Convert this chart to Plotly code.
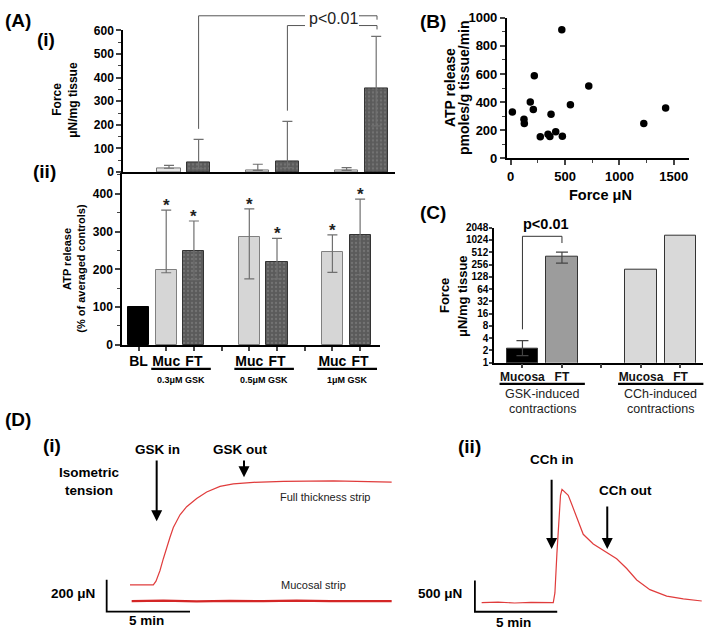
import math
import plotly.graph_objects as go

W, H = 709, 639
FONT = "Arial, Liberation Sans, sans-serif"

# ---------------- data ----------------
# Panel A
a_pos = [0, 1, 2, 4, 5, 7, 8]
a_labels = ["BL", "Muc", "FT", "Muc", "FT", "Muc", "FT"]
a_groups = ["0.3\u03bcM GSK", "0.5\u03bcM GSK", "1\u03bcM GSK"]

# A(i) force (no BL bar)
f_pos_muc = [1, 4, 7]
f_muc = [16, 7, 7]
f_muc_up = [28, 33, 19]
f_pos_ft = [2, 5, 8]
f_ft = [41, 47, 355]
f_ft_up = [138, 215, 575]
f_ft_lo = [14, 19, 196]

# A(ii) ATP release (% of averaged controls)
atp_bl = [100]
atp_muc = [197, 285, 247]
atp_muc_up = [357, 360, 291]
atp_muc_lo = [191, 175, 192]
atp_ft = [248, 220, 291]
atp_ft_up = [328, 282, 386]
atp_ft_lo = [173, 175, 186]

# Panel B: force (uN) vs ATP release
b_force = [15, 122, 125, 180, 208, 217, 272, 343, 360, 371, 414, 470, 475, 549, 718, 1224, 1425]
b_atp = [329, 278, 248, 400, 347, 588, 153, 171, 155, 313, 190, 914, 157, 382, 514, 248, 359]

# Panel C
c_pos = [0, 1, 3, 4]
c_labels = ["Mucosa", "FT", "Mucosa", "FT"]
c_gsk_vals = [2.25, 393]
c_gsk_up = [3.5, 517]
c_gsk_lo = [1.5, 277]
c_cch_vals = [189, 1340]
c_groups = [("GSK-induced", "contractions"), ("CCh-induced", "contractions")]
c_ticks = [1, 2, 4, 8, 16, 32, 64, 128, 256, 512, 1024, 2048]

# Panel D(i): time (min), force (uN)
d1_ft_t = [0, 1.4, 1.56, 1.8, 2.0, 2.2, 2.4, 2.6, 2.8, 3.0, 3.4, 4.0, 4.6, 5.4, 6.2, 7.4, 9.2, 12.2, 15.7]
d1_ft_f = [0, 0, 23, 90, 164, 237, 299, 360, 403, 440, 491, 542, 583, 618, 634, 644, 650, 653, 645]
d1_mu_t = [0.1, 2.0, 4.0, 6.0, 8.0, 10.0, 12.0, 14.0, 15.7]
d1_mu_f = [-102, -100, -104, -101, -103, -100, -103, -101, -102]
d1_events = [("GSK in", 1.6, 790, 399), ("GSK out", 6.84, 790, 675)]
d1_scale = (200, 5)  # uN, min

# Panel D(ii)
d2_t = [0, 1.0, 2.0, 3.0, 4.35, 4.45, 4.57, 4.7, 4.79, 4.88, 5.0, 5.26, 5.49, 5.77, 6.17,
        6.78, 7.59, 8.2, 8.81, 9.42, 10.22, 11.24, 12.25, 13.37]
d2_f = [0, 8, -5, 6, 0, 156, 781, 1406, 1719, 1812, 1781, 1719, 1562, 1355, 1094,
        938, 808, 703, 547, 364, 208, 105, 62, 27]
d2_events = [("CCh in", 4.25, 1989, 859), ("CCh out", 7.63, 1562, 859)]
d2_scale = (500, 5)

# ---------------- helpers ----------------
def px(x):
    return x / W

def py(y):
    return 1 - y / H

def dom_x(a, b):
    return [px(a), px(b)]

def dom_y(top, bottom):
    return [py(bottom), py(top)]

A1_X = (123, 395); A1_R = (-0.554, 8.635)
A2_X = (122, 380); A2_R = (-0.596, 8.718)
A1_Y = (24, 169); A2_Y = (170, 346)
C_X = (494, 703); C_R = (-0.72, 4.57); C_Y = (226, 364.3)

def lin(v, r, d):
    return d[0] + (v - r[0]) / (r[1] - r[0]) * (d[1] - d[0])

def a1x(p): return lin(p, A1_R, A1_X)
def a1y(v): return A1_Y[1] - v / 600 * (A1_Y[1] - A1_Y[0])
def a2x(p): return lin(p, A2_R, A2_X)
def cx(p): return lin(p, C_R, C_X)
def cy(v): return C_Y[1] - math.log2(v) / 11 * (C_Y[1] - C_Y[0])

DARK = "#5b5b5b"
LIGHT = "#d6d6d6"
ERR = "#707070"
pat = dict(shape=".", fgcolor="#8c8c8c", bgcolor=DARK, size=4, solidity=0.25)

fig = go.Figure()

# A(i)
fig.add_trace(go.Bar(x=f_pos_muc, y=f_muc, width=0.79, xaxis="x", yaxis="y",
                     marker=dict(color="#e6e6e6", line=dict(color="#777", width=1)),
                     error_y=dict(type="data", symmetric=False,
                                  array=[u - v for u, v in zip(f_muc_up, f_muc)],
                                  arrayminus=[0 for _ in f_muc],
                                  color=ERR, thickness=1.2, width=5)))
fig.add_trace(go.Bar(x=f_pos_ft, y=f_ft, width=0.79, xaxis="x", yaxis="y",
                     marker=dict(color=DARK, pattern=pat, line=dict(color="#333", width=1)),
                     error_y=dict(type="data", symmetric=False,
                                  array=[u - v for u, v in zip(f_ft_up, f_ft)],
                                  arrayminus=[v - l for v, l in zip(f_ft, f_ft_lo)],
                                  color=ERR, thickness=1.2, width=5)))

# A(ii)
fig.add_trace(go.Bar(x=[0], y=atp_bl, width=0.76, xaxis="x2", yaxis="y2",
                     marker=dict(color="black", line=dict(color="black", width=1))))
fig.add_trace(go.Bar(x=f_pos_muc, y=atp_muc, width=0.76, xaxis="x2", yaxis="y2",
                     marker=dict(color=LIGHT, line=dict(color="#808080", width=1)),
                     error_y=dict(type="data", symmetric=False,
                                  array=[u - v for u, v in zip(atp_muc_up, atp_muc)],
                                  arrayminus=[v - l for v, l in zip(atp_muc, atp_muc_lo)],
                                  color=ERR, thickness=1.2, width=5)))
fig.add_trace(go.Bar(x=f_pos_ft, y=atp_ft, width=0.76, xaxis="x2", yaxis="y2",
                     marker=dict(color=DARK, pattern=pat, line=dict(color="#333", width=1)),
                     error_y=dict(type="data", symmetric=False,
                                  array=[u - v for u, v in zip(atp_ft_up, atp_ft)],
                                  arrayminus=[v - l for v, l in zip(atp_ft, atp_ft_lo)],
                                  color=ERR, thickness=1.2, width=5)))

# B
fig.add_trace(go.Scatter(x=b_force, y=b_atp, mode="markers", xaxis="x3", yaxis="y3",
                         marker=dict(color="black", size=7.5), cliponaxis=False))

# C
fig.add_trace(go.Bar(x=c_pos[:2], y=c_gsk_vals, width=0.8, xaxis="x4", yaxis="y4",
                     marker=dict(color=["black", "#9c9c9c"], line=dict(color="#333", width=1)),
                     error_y=dict(type="data", symmetric=False,
                                  array=[u - v for u, v in zip(c_gsk_up, c_gsk_vals)],
                                  arrayminus=[v - l for v, l in zip(c_gsk_vals, c_gsk_lo)],
                                  color="#444", thickness=1.2, width=6)))
fig.add_trace(go.Bar(x=c_pos[2:], y=c_cch_vals, width=0.8, xaxis="x4", yaxis="y4",
                     marker=dict(color="#d9d9d9", line=dict(color="#333", width=1))))

# D traces
RED = "#e03c3c"
fig.add_trace(go.Scatter(x=d1_ft_t, y=d1_ft_f, mode="lines", xaxis="x5", yaxis="y5",
                         line=dict(color=RED, width=1.2)))
fig.add_trace(go.Scatter(x=d1_mu_t, y=d1_mu_f, mode="lines", xaxis="x5", yaxis="y5",
                         line=dict(color="#d42626", width=2.2)))
fig.add_trace(go.Scatter(x=d2_t, y=d2_f, mode="lines", xaxis="x6", yaxis="y6",
                         line=dict(color=RED, width=1.2)))

# scale bars (data coords of the hidden recording axes)
sb1_t0, sb1_f0 = -1.4, -169
sb2_t0, sb2_f0 = -0.41, -145
fig.add_trace(go.Scatter(x=[sb1_t0, sb1_t0, sb1_t0 + d1_scale[1]],
                         y=[sb1_f0 + d1_scale[0], sb1_f0, sb1_f0], mode="lines",
                         xaxis="x5", yaxis="y5", line=dict(color="black", width=1.8)))
fig.add_trace(go.Scatter(x=[sb2_t0, sb2_t0, sb2_t0 + d2_scale[1]],
                         y=[sb2_f0 + d2_scale[0], sb2_f0, sb2_f0], mode="lines",
                         xaxis="x6", yaxis="y6", line=dict(color="black", width=1.8)))

tickfont = dict(family=FONT, size=12, color="black", weight="bold")
axline = dict(showline=True, linecolor="black", linewidth=1.5, showgrid=False, zeroline=False)

layout = dict(
    width=W, height=H, margin=dict(l=0, r=0, t=0, b=0), autosize=False,
    paper_bgcolor="white", plot_bgcolor="rgba(0,0,0,0)", showlegend=False,
    font=dict(family=FONT, color="black"), bargap=0, hovermode=False,
    xaxis=dict(domain=dom_x(*A1_X), range=list(A1_R), showticklabels=False, ticks="",
               anchor="y", **axline),
    yaxis=dict(domain=dom_y(*A1_Y), range=[0, 600], tickvals=[0, 100, 200, 300, 400, 500, 600],
               ticks="outside", ticklen=5, tickwidth=1.5, tickfont=tickfont,
               minor=dict(dtick=50, ticks="outside", ticklen=3, tickwidth=1), anchor="x", **axline),
    xaxis2=dict(domain=dom_x(*A2_X), range=list(A2_R), tickvals=list(range(9)),
                ticktext=["BL", "Muc", "FT", "", "Muc", "FT", "", "Muc", "FT"],
                ticks="outside", ticklen=4, tickwidth=1.5, ticklabelstandoff=-1,
                tickfont=dict(family=FONT, size=14, color="black", weight="bold"),
                anchor="y2", **axline),
    yaxis2=dict(domain=dom_y(*A2_Y), range=[0, 455], tickvals=[0, 100, 200, 300, 400],
                ticks="outside", ticklen=5, tickwidth=1.5, tickfont=tickfont,
                minor=dict(dtick=50, ticks="outside", ticklen=3, tickwidth=1), anchor="x2", **axline),
    xaxis3=dict(domain=dom_x(506.7, 689), range=[-37, 1640], tickvals=[0, 500, 1000, 1500],
                ticks="outside", ticklen=5, tickwidth=1.5,
                tickfont=dict(family=FONT, size=13, color="black", weight="bold"),
                minor=dict(dtick=250, ticks="outside", ticklen=3, tickwidth=1), anchor="y3", **axline),
    yaxis3=dict(domain=dom_y(11, 155), range=[0, 1000], tickvals=[0, 200, 400, 600, 800, 1000],
                ticks="outside", ticklen=5, tickwidth=1.5,
                tickfont=dict(family=FONT, size=13, color="black", weight="bold"),
                minor=dict(dtick=100, ticks="outside", ticklen=3, tickwidth=1), anchor="x3", **axline),
    xaxis4=dict(domain=dom_x(*C_X), range=list(C_R), tickvals=[0, 1, 2, 3, 4],
                ticktext=["Mucosa", "FT", "", "Mucosa", "FT"], ticks="outside", ticklen=4, tickwidth=1.5,
                ticklabelstandoff=-2,
                tickfont=dict(family=FONT, size=12, color="#111", weight="bold"),
                anchor="y4", **axline),
    yaxis4=dict(domain=dom_y(*C_Y), type="log", range=[0, math.log10(2048)],
                tickvals=c_ticks, ticktext=[str(v) for v in c_ticks],
                ticks="outside", ticklen=3, tickwidth=1.5, ticklabelstandoff=-1,
                tickfont=dict(family=FONT, size=10, color="black", weight="bold"),
                anchor="x4", **axline),
    xaxis5=dict(domain=dom_x(0, 400), range=[-7.8, 16.2], visible=False, anchor="y5"),
    yaxis5=dict(domain=dom_y(440, 639), range=[-290.2, 930.7], visible=False, anchor="x5"),
    xaxis6=dict(domain=dom_x(400, 709), range=[-4.96, 13.81], visible=False, anchor="y6"),
    yaxis6=dict(domain=dom_y(440, 639), range=[-453, 2656], visible=False, anchor="x6"),
)
fig.update_layout(**layout)

annotations = []
shapes = []

def text(t, x, y, size, bold=True, color="black", angle=0, xanchor="center"):
    annotations.append(dict(text=t, x=px(x), y=py(y), xref="paper", yref="paper",
                            showarrow=False, textangle=angle, xanchor=xanchor, yanchor="middle",
                            font=dict(family=FONT, size=size, color=color,
                                      weight="bold" if bold else "normal")))

def line(x0, y0, x1, y1, color="black", width=1):
    shapes.append(dict(type="line", xref="paper", yref="paper", x0=px(x0), y0=py(y0),
                       x1=px(x1), y1=py(y1), line=dict(color=color, width=width)))

# panel labels
text("(A)", 18, 14, 19)
text("(i)", 46, 33, 19)
text("(ii)", 44, 168, 19)
text("(B)", 433, 15, 19)
text("(C)", 433, 210, 19)
text("(D)", 18, 422, 19)
text("(i)", 52, 449, 19)
text("(ii)", 469, 450, 19)

# axis titles
text("Force", 57, 95, 12, angle=-90)
text("\u03bcN/mg tissue", 73, 95, 12, angle=-90)
text("ATP release", 67, 258, 11, angle=-90)
text("(% of averaged controls)", 81, 268, 11, angle=-90)
text("ATP release", 450, 83, 14, angle=-90)
text("pmoles/g tissue/min", 464, 83, 14, angle=-90)
text("Force \u03bcN", 600, 193, 14.5)
text("Force", 444, 296, 13, angle=-90)
text("\u03bcN/mg tissue", 462, 296, 13, angle=-90)

# A(i) significance brackets
GREY = "#555"
for p, up, yh in [(2, f_ft_up[0], 9), (5, f_ft_up[1], 19)]:
    x = a1x(p)
    line(x, a1y(up + 45), x, yh, GREY)
    line(x, yh, 305, yh, GREY)
for yh in (9, 19):
    line(359, yh, 377, yh, GREY)
    line(377, yh, 377, yh + 4, GREY)
text("p<0.01", 333, 12, 16, bold=False, color="#222")

# A(ii) stars
for p, up in zip(f_pos_muc + f_pos_ft, atp_muc_up + atp_ft_up):
    annotations.append(dict(text="*", x=p, y=up + 12, xref="x2", yref="y2", showarrow=False,
                            yanchor="middle", font=dict(family=FONT, size=17, color="#222",
                                                        weight="bold")))

# A(ii) group underlines and labels
for (p1, p2), g in zip([(1, 2), (4, 5), (7, 8)], a_groups):
    x0, x1 = a2x(p1 - 0.54), a2x(p2 + 0.61)
    line(x0, 370.5, x1, 370.5, "black", 2.2)
    text(g, (x0 + x1) / 2, 381.5, 9)

# C bracket + p value
xm, xf = cx(0), cx(1)
line(xm, cy(6.6), xm, cy(1260), "#333")
line(xm, cy(1260), xf, cy(1260), "#333")
line(xf, cy(1260), xf, cy(862), "#333")
text("p<0.01", (xm + xf) / 2 + 4, 222, 14.5)

# C group underlines and labels
for (p1, p2), (g1, g2) in zip([(0, 1), (3, 4)], c_groups):
    x0, x1 = cx(p1 - 0.58), cx(p2 + 0.58)
    line(x0, 386, x1, 386, "black", 2.2)
    text(g1, (cx(p1) + cx(p2)) / 2, 396.5, 12.5, bold=False, color="#222")
    text(g2, (cx(p1) + cx(p2)) / 2, 411.5, 12.5, bold=False, color="#222")

# D texts
text("Isometric<br>tension", 89, 486, 13.5)
text("Full thickness strip", 325, 502, 11, bold=False, color="#222")
text("Mucosal strip", 313, 592, 11, bold=False, color="#222")
text("%d \u03bcN" % d1_scale[0], 73, 601, 13.5)
text("%d min" % d1_scale[1], 146, 628, 13.5)
text("%d \u03bcN" % d2_scale[0], 440, 601, 13.5)
text("%d min" % d2_scale[1], 513, 630, 13.5)

for ev, xa, ya in [(d1_events, "x5", "y5"), (d2_events, "x6", "y6")]:
    for name, t, ftail, ftip in ev:
        annotations.append(dict(text="", x=t, y=ftip, ax=t, ay=ftail, xref=xa, yref=ya,
                                axref=xa, ayref=ya, showarrow=True, arrowhead=2,
                                arrowsize=1.1, arrowwidth=2, arrowcolor="black"))
text("GSK in", 157, 453, 13.5)
text("GSK out", 240, 453, 13.5)
text("CCh in", 552, 463, 13.5)
text("CCh out", 625, 495, 13.5)

fig.update_layout(annotations=annotations, shapes=shapes)
fig.write_html("out.html", config={"displayModeBar": False},
               post_script="document.body.style.margin='0';document.body.style.padding='0';")
